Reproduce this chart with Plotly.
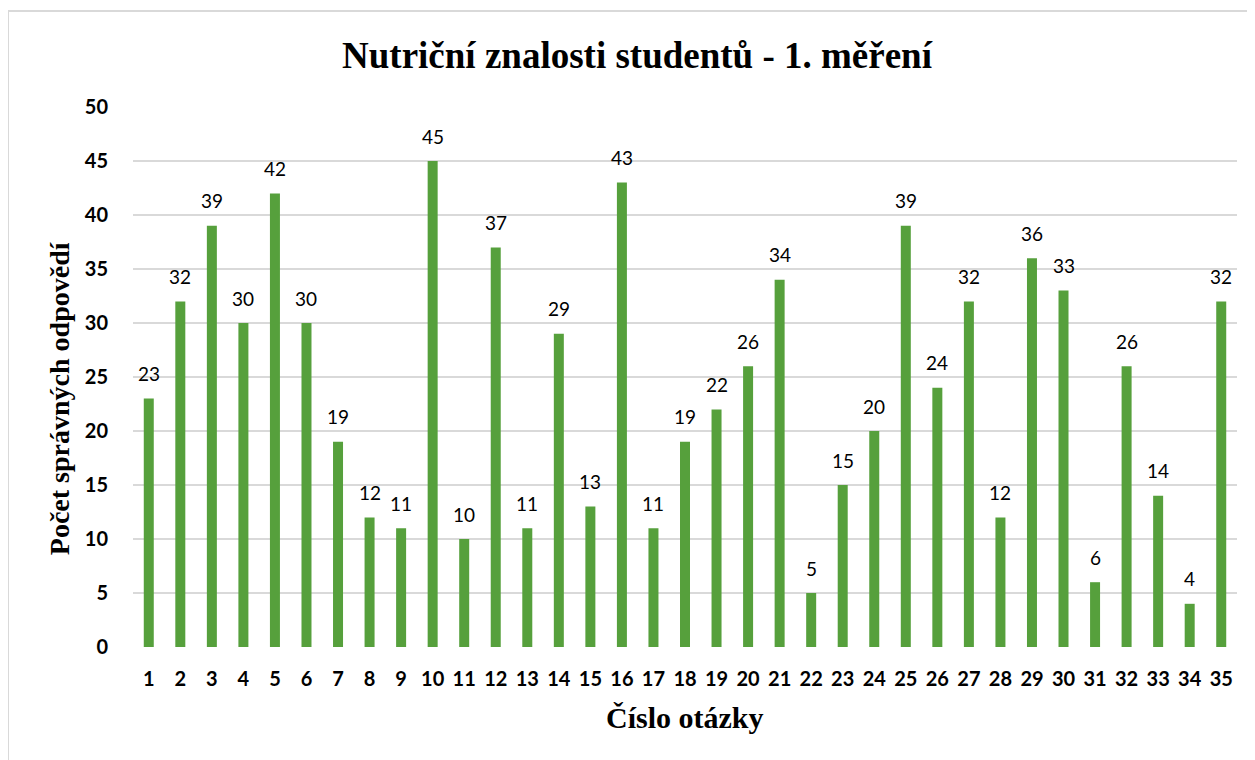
import plotly.graph_objects as go

questions = [str(i) for i in range(1, 36)]
correct = [23, 32, 39, 30, 42, 30, 19, 12, 11, 45, 10, 37, 11, 29, 13, 43, 11, 19, 22, 26,
           34, 5, 15, 20, 39, 24, 32, 12, 36, 33, 6, 26, 14, 4, 32]

title_text = "Nutriční znalosti studentů - 1. měření"
x_title = "Číslo otázky"
y_title = "Počet správných odpovědí"

bar_color = "#56A03C"
grid_color = "#D9D9D9"

W, H = 1247, 752
ML, MR, MT, MB = 125, 18, 99, 113

fig = go.Figure()
fig.add_trace(go.Bar(x=questions, y=correct, marker=dict(color=bar_color, line=dict(width=0)),
                     hoverinfo="x+y"))

annotations = []
for i, v in enumerate(correct):
    annotations.append(dict(x=i, y=v, xref="x", yref="y", text=str(v), showarrow=False,
                            yanchor="middle", yshift=25,
                            font=dict(family="Lato", size=19, color="#000000")))

annotations.append(dict(text="<b>" + y_title + "</b>", xref="paper", yref="paper", x=-0.0665, y=0.46,
                        xanchor="center", yanchor="middle", textangle=-90, showarrow=False,
                        font=dict(family="Liberation Serif", size=28, color="#000000")))
annotations.append(dict(text="<b>" + x_title + "</b>", xref="paper", yref="paper", x=0.5, y=-0.131,
                        xanchor="center", yanchor="middle", showarrow=False,
                        font=dict(family="Liberation Serif", size=30, color="#000000")))

fig.update_layout(
    width=W, height=H,
    margin=dict(l=ML, r=MR, t=MT, b=MB),
    paper_bgcolor="white", plot_bgcolor="white",
    title=dict(text="<b>" + title_text + "</b>", x=629 / W, xanchor="center",
               y=1 - 47 / H, yanchor="middle",
               font=dict(family="Liberation Serif", size=37, color="#000000")),
    bargap=0.683,
    showlegend=False,
    annotations=annotations,
    shapes=[dict(type="rect", xref="paper", yref="paper",
                 x0=(8 - 133) / 1104, x1=1.2, y0=-0.5, y1=(647 - 11) / 540,
                 line=dict(color="#D9D9D9", width=2), layer="below")],
)

fig.update_xaxes(type="category", showgrid=False, zeroline=False, showline=False,
                 ticks="outside", ticklen=14, tickcolor="rgba(0,0,0,0)",
                 tickfont=dict(family="Lato", size=20, color="#000000", weight="bold"))
fig.update_yaxes(range=[0, 50], dtick=5, showgrid=True, gridcolor=grid_color, gridwidth=2,
                 zeroline=False, showline=False,
                 ticks="outside", ticklen=20, tickcolor="rgba(0,0,0,0)",
                 tickfont=dict(family="Lato", size=20, color="#000000", weight="bold"))

fig.write_html("out.html")
